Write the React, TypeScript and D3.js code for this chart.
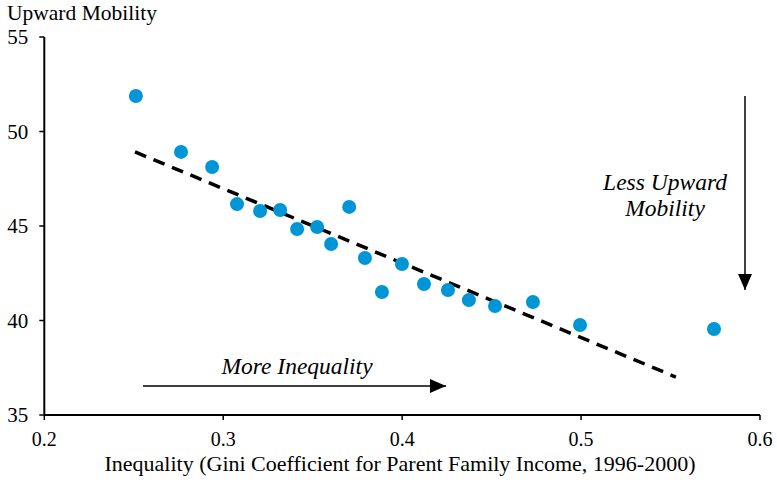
import React from "react";
import * as d3 from "d3";

const giniValues = [0.2512, 0.2764, 0.2938, 0.3077, 0.3206, 0.3318, 0.3413, 0.3525, 0.3603, 0.3704, 0.3792, 0.3887, 0.3999, 0.4122, 0.4256, 0.4373, 0.4519, 0.4731, 0.4994, 0.5743];
const mobilityValues = [51.88, 48.92, 48.12, 46.16, 45.79, 45.85, 44.84, 44.95, 44.05, 46.01, 43.31, 41.51, 42.99, 41.93, 41.61, 41.08, 40.77, 40.98, 39.76, 39.55];
const trendX = [0.2507, 0.553];
const trendY = [48.92, 37.01];
const xTicks = [0.2, 0.3, 0.4, 0.5, 0.6];
const yTicks = [35, 40, 45, 50, 55];

const W = 777, H = 485;
const FONT = "Liberation Serif";

export default function App() {
  const x = d3.scaleLinear().domain([0.2, 0.6]).range([44.3, 760]);
  const y = d3.scaleLinear().domain([35, 55]).range([415, 37]);
  const line = d3.line<number>().x((d, i) => x(trendX[i])).y((d, i) => y(trendY[i]));
  const pts = giniValues.map((g, i) => ({ g, m: mobilityValues[i] }));
  const ts = { fontFamily: FONT };
  return (
    <svg width={W} height={H} style={{ position: "absolute", left: 0, top: 0, background: "#fff", fontFamily: FONT }}>
      <defs>
        <marker id="ah2" viewBox="0 0 10 10" refX="10" refY="5" markerWidth="16" markerHeight="14" markerUnits="userSpaceOnUse" orient="auto" preserveAspectRatio="none">
          <path d="M0,0 L10,5 L0,10 Z" fill="#000" />
        </marker>
      </defs>
      <line x1={x(0.2)} x2={x(0.6)} y1={y(35)} y2={y(35)} stroke="#000" strokeWidth={2} />
      <line x1={x(0.2)} x2={x(0.2)} y1={y(35)} y2={y(55)} stroke="#000" strokeWidth={2} />
      {xTicks.map(t => (
        <g key={"x" + t}>
          <line x1={x(t)} x2={x(t)} y1={y(35)} y2={y(35) + 5} stroke="#000" strokeWidth={1.5} />
          <text style={ts} x={x(t)} y={y(35) + 31} textAnchor="middle" fontSize={20}>{d3.format(".1f")(t)}</text>
        </g>
      ))}
      {yTicks.map(t => (
        <g key={"y" + t}>
          <line x1={x(0.2) - 5} x2={x(0.2)} y1={y(t)} y2={y(t)} stroke="#000" strokeWidth={1.5} />
          <text style={ts} x={x(0.2) - 16} y={y(t) + 7} textAnchor="end" fontSize={21}>{t}</text>
        </g>
      ))}
      <text style={ts} x={7} y={20} fontSize={21.5}>Upward Mobility</text>
      <text style={ts} x={400} y={471} textAnchor="middle" fontSize={22}>Inequality (Gini Coefficient for Parent Family Income, 1996-2000)</text>
      <path d={line([0, 1]) || ""} stroke="#000" strokeWidth={3.5} strokeDasharray="12,8" fill="none" />
      {pts.map((p, i) => (
        <circle key={i} cx={x(p.g)} cy={y(p.m)} r={7} fill="#0096D6" />
      ))}
      <line x1={143} x2={446} y1={386} y2={386} stroke="#000" strokeWidth={1.5} markerEnd="url(#ah2)" />
      <text style={ts} x={297} y={374} textAnchor="middle" fontSize={23.5} fontStyle="italic">More Inequality</text>
      <line x1={745} x2={745} y1={96} y2={290} stroke="#000" strokeWidth={1.5} markerEnd="url(#ah2)" />
      <text style={ts} x={665} y={190} textAnchor="middle" fontSize={23.5} fontStyle="italic">Less Upward</text>
      <text style={ts} x={665} y={216} textAnchor="middle" fontSize={23.5} fontStyle="italic">Mobility</text>
    </svg>
  );
}
